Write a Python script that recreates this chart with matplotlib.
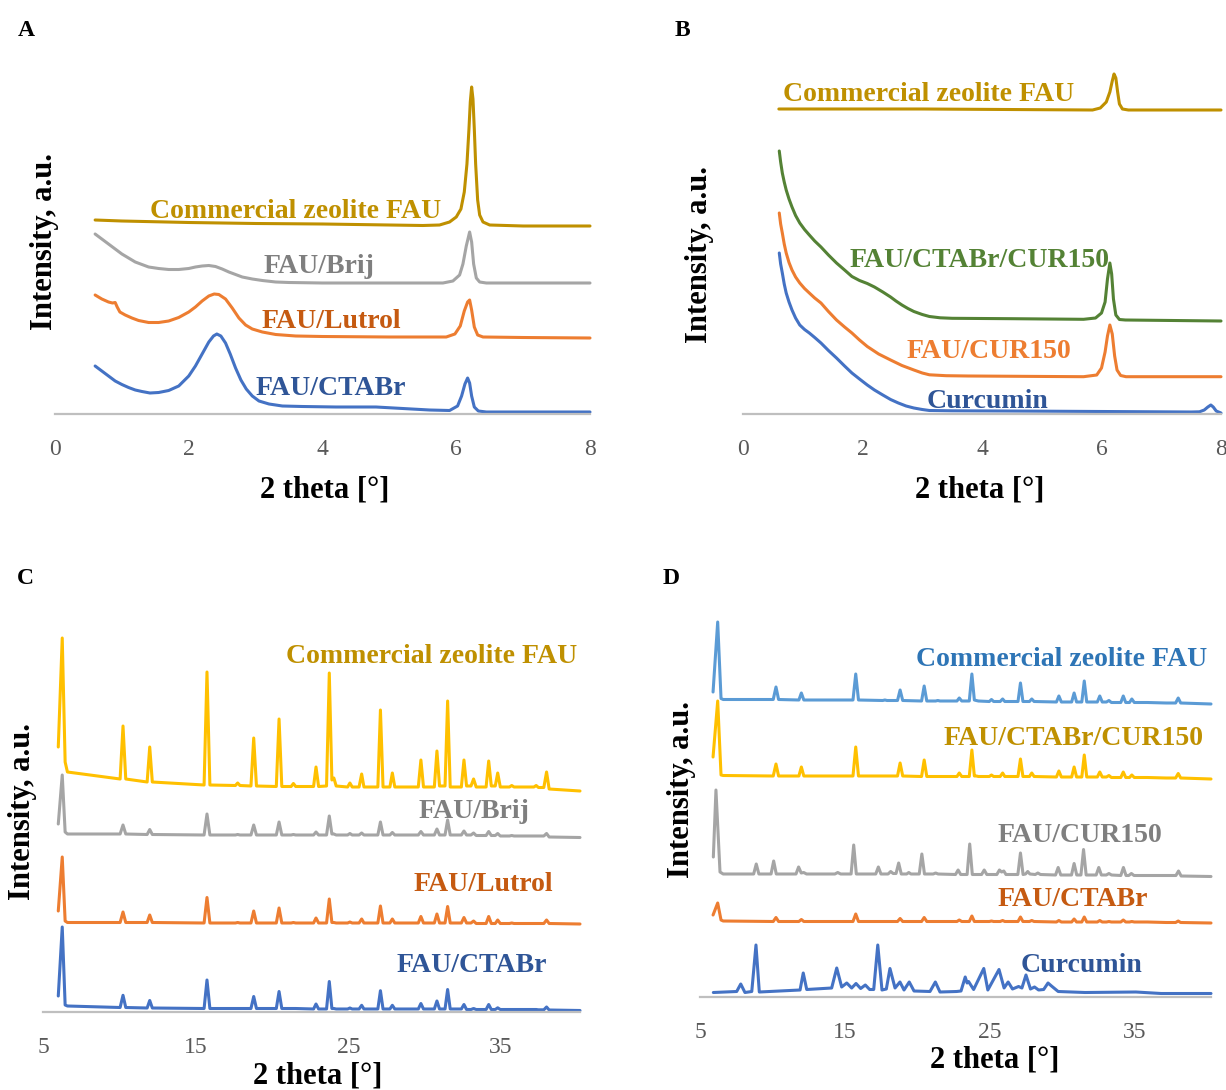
import matplotlib
matplotlib.use("Agg")
import matplotlib.pyplot as plt

plt.rcParams['font.family'] = ['Liberation Serif', 'DejaVu Serif']

# ---------------- Panel A (low angle) ----------------
A_comm_x = [0.6, 1.0, 2.0, 3.0, 4.0, 5.0, 5.5, 5.75, 5.9, 6.0, 6.07, 6.12, 6.16, 6.19, 6.21, 6.23,
            6.25, 6.27, 6.29, 6.32, 6.35, 6.4, 6.5, 7.0, 8.0]
A_comm_y = [194, 193, 191.5, 190.5, 190, 189, 188.5, 189, 192, 197, 205, 222, 250, 285, 312, 327,
            315, 285, 250, 214, 199, 192, 189, 188, 188]
A_brij_x = [0.6, 0.7, 0.8, 0.9, 1.0, 1.1, 1.2, 1.3, 1.4, 1.55, 1.7, 1.85, 2.0, 2.1, 2.2, 2.3, 2.4,
            2.5, 2.6, 2.7, 2.8, 2.95, 3.1, 3.3, 3.5, 4.0, 5.0, 5.8, 5.95, 6.05, 6.1, 6.15, 6.2,
            6.23, 6.26, 6.3, 6.35, 6.45, 7.0, 8.0]
A_brij_y = [180, 175, 170, 165, 160, 156, 152, 149.5, 147, 145.5, 144.5, 144.5, 145.5, 147, 148,
            148.5, 147.5, 145, 142, 139.5, 137, 135, 133.5, 132, 131.5, 131, 131, 131, 133, 139,
            150, 168, 182, 172, 150, 136, 132, 131, 131, 131]
A_lutrol_x = [0.6, 0.7, 0.8, 0.86, 0.9, 0.93, 0.97, 1.05, 1.15, 1.25, 1.4, 1.55, 1.7, 1.85, 2.0,
              2.1, 2.2, 2.3, 2.38, 2.45, 2.55, 2.65, 2.75, 2.85, 2.95, 3.1, 3.3, 3.6, 4.0, 5.0,
              5.85, 5.98, 6.06, 6.12, 6.17, 6.2, 6.23, 6.27, 6.32, 6.4, 7.0, 8.0]
A_lutrol_y = [119, 115, 112, 111, 111.5, 107, 102, 99, 96, 93.5, 91.5, 91.5, 93, 96.5, 102,
              107, 113, 118, 120, 119.5, 115, 106, 96, 89, 85, 82, 79.5, 78, 77.5, 77,
              77, 80, 88, 103, 112, 114, 104, 87, 79, 77, 76.5, 76]
A_ctabr_x = [0.6, 0.7, 0.8, 0.9, 1.0, 1.1, 1.2, 1.3, 1.42, 1.55, 1.7, 1.85, 2.0, 2.1, 2.2, 2.3,
             2.37, 2.42, 2.48, 2.55, 2.62, 2.7, 2.78, 2.86, 2.95, 3.05, 3.2, 3.4, 3.7, 4.2, 4.8,
             5.2, 5.6, 5.9, 6.02, 6.08, 6.13, 6.17, 6.2, 6.23, 6.27, 6.33, 6.45, 8.0]
A_ctabr_y = [48, 43, 38, 33, 29.5, 26.5, 24, 22.5, 21, 21.5, 23.5, 28, 38, 48, 60, 72,
             78, 80, 78, 71, 60, 46, 34, 25, 18, 13, 10, 8, 7.5, 7, 7,
             5.5, 4, 3.5, 8, 18, 30, 36, 31, 18, 7, 3, 2, 2]

# ---------------- Panel B (low angle) ----------------
B_comm_x = [0.6, 3.0, 5.85, 5.98, 6.08, 6.14, 6.18, 6.21, 6.24, 6.27, 6.3, 6.35, 6.45, 7.0, 8.0]
B_comm_y = [305, 305, 304, 306, 312, 322, 333, 340, 336, 322, 310, 305, 304, 304, 304]
B_ctcur_x = [0.607, 0.63, 0.658, 0.69, 0.723, 0.77, 0.82, 0.88, 0.95, 1.03, 1.11, 1.2, 1.305,
             1.43, 1.565, 1.7, 1.823, 1.95, 2.08, 2.2, 2.34, 2.47, 2.56, 2.66, 2.76, 2.86, 3.0,
             3.12, 3.3, 3.5, 4.5, 5.7, 5.9, 6.0, 6.06, 6.1, 6.14, 6.17, 6.2, 6.24, 6.3, 6.4, 8.0]
B_ctcur_y = [263, 252, 241, 232, 224, 215, 207, 198.5, 191, 184.5, 179, 173, 167,
             159, 151, 144, 137.5, 133.5, 130.5, 127, 122, 117, 113, 109, 105.5, 102.5, 99.5,
             97.5, 96.2, 95.7, 95.3, 94.7, 96, 101, 112, 135, 151, 140, 115, 99, 94.5, 94, 93]
B_cur150_x = [0.607, 0.63, 0.658, 0.69, 0.723, 0.77, 0.82, 0.88, 0.95, 1.03, 1.11, 1.2, 1.305,
              1.43, 1.565, 1.7, 1.823, 1.95, 2.08, 2.27, 2.47, 2.66, 2.86, 3.0, 3.12, 3.4, 3.77,
              5.7, 5.92, 6.0, 6.06, 6.1, 6.14, 6.18, 6.22, 6.26, 6.32, 6.41, 8.0]
B_cur150_y = [201, 190, 181, 170, 161, 151.5, 144, 137, 131, 125.5, 121, 116, 111,
              102.5, 94, 87, 81, 74, 67.5, 60, 54, 48.5, 44, 41, 39.2, 38.3, 38,
              37.3, 39, 46, 62, 78, 89, 80, 58, 44, 38.5, 37.3, 37.3]
B_curc_x = [0.607, 0.63, 0.658, 0.69, 0.723, 0.77, 0.82, 0.88, 0.95, 1.03, 1.11, 1.2, 1.305,
            1.43, 1.565, 1.7, 1.823, 1.95, 2.08, 2.2, 2.34, 2.47, 2.6, 2.73, 2.86, 3.0, 3.12,
            3.5, 4.41, 6.0, 7.5, 7.64, 7.72, 7.78, 7.83, 7.87, 7.92, 8.0]
B_curc_y = [161, 150, 141, 130, 121, 112, 104, 96, 89, 84.5, 81, 76.5, 71,
            63.5, 56, 48, 41, 35, 29, 24, 19, 14.5, 11, 8, 6, 4.5, 3.5,
            3.2, 3, 2.5, 2, 2.2, 4, 7, 9, 7, 3, 1]

# ---------------- Panel C (wide angle) ----------------
C_x = [6.0, 6.26, 6.45, 6.6,
       10.05, 10.24, 10.42, 11.82, 11.99, 12.16, 15.55, 15.74, 15.93,
       17.6, 17.75, 17.9, 18.62, 18.8, 18.98, 20.28, 20.46, 20.64,
       21.25, 21.4, 21.55, 22.72, 22.88, 23.05,
       23.57, 23.75, 23.92, 24.05, 24.2,
       24.95, 25.1, 25.25, 25.7, 25.87, 26.02, 26.93, 27.1, 27.27,
       27.72, 27.88, 28.04, 29.58, 29.75, 29.92, 30.63, 30.8, 30.97,
       31.33, 31.5, 31.67, 32.4, 32.57, 32.74, 33.03, 33.2, 33.37,
       34.02, 34.19, 34.36, 34.62, 34.78, 34.95, 35.55, 35.7, 35.85,
       37.15, 37.3, 37.45, 37.8, 37.98, 38.15,
       40.17]
C_comm = [265, 374, 250, 240,
          233, 286, 233, 230, 265, 230, 227, 340, 227,
          226.5, 229, 226.5, 226, 274, 226, 225.5, 293, 225.5,
          225.5, 228.5, 225.5, 225.5, 245, 225.5,
          226, 339, 232, 234, 226,
          225, 229, 225, 225, 238, 225, 225, 302, 225,
          225, 239, 225, 225, 252, 225, 225, 261, 226,
          226, 311, 225, 225, 252, 226, 226, 233, 225,
          225, 251, 226, 226, 239, 225, 225, 226.5, 225,
          225, 226.5, 224.5, 224.5, 240, 223,
          221]
C_brij = [188, 237, 180, 178,
          178, 187, 178, 177.5, 182.5, 177.5, 177, 198, 177,
          177, 177.5, 177, 177, 187, 177, 177, 190, 177,
          177, 177.5, 177, 177, 180, 177,
          177, 196, 178, 178, 177,
          177, 178.5, 177, 177, 179, 177, 177, 190, 177,
          177, 179.5, 177, 177, 180.5, 177, 177, 183, 177,
          177, 192, 177, 177, 181, 177, 177, 179, 176.5,
          176.5, 180.5, 176.5, 176.5, 178.5, 176, 176, 176.5, 176,
          176, 176, 176, 176, 178.5, 175,
          174.5]
C_lutrol = [101, 155, 91, 89.5,
            89.5, 100, 89.5, 89.5, 97, 89.5, 89, 114.5, 89,
            89, 89.5, 89, 89, 101, 89, 89, 104, 89,
            89, 89.5, 89, 89, 94, 89,
            89, 113, 89.5, 89.5, 89,
            89, 90, 89, 89, 93, 89, 89, 106, 89,
            89, 93, 89, 89, 95.5, 89, 89, 98, 89,
            89, 105.5, 89, 89, 94.5, 89, 89, 91, 88.5,
            88.5, 95.5, 88.5, 88.5, 92, 88.5, 88.5, 89, 88.5,
            88.5, 88.5, 88.5, 88.5, 92, 88.5,
            88]
C_ctabr = [16, 85, 7, 6,
           4.5, 16.7, 4.5, 4, 11.5, 4, 3.5, 32, 3.5,
           3.5, 3.5, 3.5, 3.5, 15.5, 3.5, 3.5, 20.5, 3.5,
           3.5, 3.5, 3.5, 3, 8, 3,
           3, 30.5, 3.5, 3.5, 3,
           3, 4, 3, 3, 6.7, 3, 3, 21.3, 3,
           3, 6.7, 3, 3, 8.5, 3, 3, 11, 3,
           3, 22.5, 3, 3, 7.5, 2.5, 2.5, 3.5, 2.5,
           2.5, 7.5, 2.5, 2.5, 4.2, 2.5, 2.5, 2.5, 2.5,
           2.5, 2.5, 2.2, 2.2, 5, 2,
           1.5]

# ---------------- Panel D (wide angle) ----------------
D_x = [5.9, 6.22, 6.45, 6.6,
       10.05, 10.24, 10.42, 11.82, 11.99, 12.16, 15.55, 15.74, 15.93,
       17.6, 17.75, 17.9, 18.62, 18.8, 18.98, 20.28, 20.46, 20.64,
       21.25, 21.4, 21.55, 22.72, 22.88, 23.05,
       23.57, 23.75, 23.92, 24.05, 24.2,
       24.95, 25.1, 25.25, 25.7, 25.87, 26.02, 26.93, 27.1, 27.27,
       27.72, 27.88, 28.04, 29.58, 29.75, 29.92, 30.63, 30.8, 30.97,
       31.33, 31.5, 31.67, 32.4, 32.57, 32.74, 33.03, 33.2, 33.37,
       34.02, 34.19, 34.36, 34.62, 34.78, 34.95, 35.55, 35.7, 35.85,
       37.15, 37.3, 37.45, 37.8, 37.98, 38.15,
       40.24]
D_comm = [305, 375, 298.5, 297.5,
          297.5, 310, 297.5, 297, 304, 297, 297, 323, 297,
          296.5, 297, 296.5, 296.5, 307, 296.5, 296, 311, 296,
          296, 296.5, 296, 296, 299, 296,
          296, 323, 297, 296.5, 296,
          295.5, 297.5, 295.5, 295.5, 298, 295.5, 295.5, 314, 295.5,
          295.5, 298, 295.5, 295, 301, 295, 295, 304, 295,
          295, 316, 295, 295, 301, 295, 295, 296.5, 294.5,
          294.5, 301, 294.5, 294.5, 298, 294.5, 294.5, 294.5, 294.5,
          294, 294, 294, 294, 299, 294,
          293]
D_ctcur = [240, 296, 222, 221.5,
           221, 233, 221, 221, 230, 221, 221, 250, 221,
           221, 221, 221, 221, 234, 221, 220.5, 237, 220.5,
           220.5, 220.5, 220.5, 220.5, 224, 220.5,
           220.5, 247, 221, 221, 220.5,
           220.5, 222, 220.5, 220.5, 224, 220.5, 220.5, 238, 220.5,
           220.5, 224, 220.5, 220, 226, 220, 220, 230, 220,
           220, 242, 220, 220, 225, 220, 220, 221.5, 219.5,
           219.5, 225, 219.5, 219.5, 222, 219.5, 219.5, 219.5, 219.5,
           219, 219, 219, 219, 223.5, 219,
           218]
D_ctabr = [82, 94, 77, 76,
           75.5, 79.5, 75.5, 75.5, 77.5, 75.5, 75.5, 83, 75.5,
           75.5, 75.5, 75.5, 75.5, 78.5, 75.5, 75.5, 79.5, 75.5,
           75.5, 75.5, 75.5, 75.5, 77, 75.5,
           75.5, 81, 75.5, 75.5, 75.5,
           75.5, 76, 75.5, 75.5, 76.5, 75.5, 75.5, 80, 75.5,
           75.5, 76.5, 75.5, 75, 76.5, 75, 75, 78, 75,
           75, 80, 75, 75, 76.5, 75, 75, 75.5, 75,
           75, 77, 75, 75, 75.5, 75, 75, 75, 75,
           74.5, 74.5, 74.5, 74.5, 76, 74.5,
           74]
D_cur150_x = [5.92, 6.1, 6.38, 6.6,
              8.7, 8.88, 9.06, 9.9, 10.08, 10.26,
              11.62, 11.8, 11.98, 12.15, 12.35,
              14.3, 14.5, 14.7, 15.42, 15.6, 15.78,
              17.12, 17.3, 17.48, 17.97, 18.15, 18.32,
              18.52, 18.7, 18.88, 19.25, 19.4, 19.55,
              20.12, 20.3, 20.48, 21.08, 21.25, 21.42,
              22.62, 22.8, 22.98, 23.42, 23.6, 23.78,
              24.42, 24.6, 24.78, 25.47, 25.65, 25.8, 25.95, 26.1,
              26.92, 27.1, 27.28, 27.45, 27.6, 27.75,
              28.12, 28.3, 28.48, 29.52, 29.7, 29.88,
              30.62, 30.8, 30.98, 31.27, 31.45, 31.63,
              32.32, 32.5, 32.68, 33.02, 33.2, 33.38,
              34.02, 34.2, 34.38, 34.57, 34.75, 34.93,
              37.82, 38.0, 38.18,
              40.24]
D_cur150_y = [140, 207, 125, 123,
              123, 133, 123, 123, 136, 123,
              123, 130, 124, 124.5, 123,
              123, 124.5, 123, 123, 152, 123,
              123, 130, 123, 123, 125.5, 123.5,
              123.5, 134, 123, 123, 124.5, 123,
              123, 143, 123, 123, 124, 123,
              122.5, 127, 122.5, 122.5, 153, 122.5,
              122.5, 127, 122.5, 122.5, 127, 125, 126, 122.5,
              122.5, 144, 122.5, 123, 125.5, 123,
              122.5, 124, 122.5, 122, 129.5, 122,
              122, 133.5, 122, 122, 147.5, 122,
              122, 129.5, 122, 122, 123.5, 122,
              121.5, 129.5, 121.5, 121.5, 123.5, 121.5,
              121.5, 126, 121,
              120.5]
D_curc_x = [5.92, 7.53, 7.81, 8.1, 8.57, 8.86, 9.09, 11.9, 12.12, 12.36,
            14.08, 14.43, 14.77, 15.12, 15.46, 15.76, 16.08, 16.4, 16.7, 16.98,
            17.26, 17.55, 17.85, 18.1, 18.45, 18.79, 19.07, 19.43, 19.76, 20.86,
            21.23, 21.55, 22.7, 23.0, 23.29, 23.42, 23.52, 23.87, 24.57, 24.85,
            25.62, 25.97, 26.25, 26.55, 26.97, 27.2, 27.48, 27.79, 28.07, 28.35,
            28.7, 29.0, 29.24, 29.7, 31.55, 35.06, 36.8, 40.24]
D_curc_y = [4.5, 5.5, 13, 4.5, 5.5, 52, 5, 7, 24, 7.5,
            9, 29, 10, 14, 9, 13.5, 8.5, 12, 7.5, 7.5,
            52, 7, 8, 28.5, 9, 15, 7, 15, 6, 5.5,
            15, 5, 5.5, 6, 20, 14, 15.5, 7.5, 28.5, 7,
            27.5, 9, 15, 8, 10.5, 9, 22, 8, 10, 7,
            7.5, 14, 11, 5.5, 4.5, 5, 3.5, 3.5]

W, H = 1226, 1090
fig = plt.figure(figsize=(W / 100, H / 100), dpi=100)


def axes_px(left, right, top, bottom):
    return fig.add_axes([left / W, 1 - bottom / H, (right - left) / W, (bottom - top) / H])


def style(ax, xlim, ylim, ticks):
    ax.set_xlim(*xlim)
    ax.set_ylim(*ylim)
    for s in ['top', 'right', 'left']:
        ax.spines[s].set_visible(False)
    ax.spines['bottom'].set_color('#BFBFBF')
    ax.spines['bottom'].set_linewidth(1.6)
    ax.set_yticks([])
    ax.set_xticks(ticks)
    ax.set_xticklabels([str(t) for t in ticks])
    ax.tick_params(axis='x', length=0, pad=18, labelsize=17, labelcolor='#595959')
    ax.patch.set_alpha(0)


def line(ax, x, y, c):
    assert len(x) == len(y)
    ax.plot(x, y, color=c, lw=2.2, solid_joinstyle='round', solid_capstyle='round', clip_on=False)


def ftext(px, py, s, **kw):
    fig.text(px / W, 1 - py / H, s, **kw)


def label(px, py, s, c, size=20):
    ftext(px, py, s, color=c, fontsize=size, fontweight='bold', ha='center', va='baseline')


axA = axes_px(55, 590, 60, 414)
style(axA, (0, 8), (0, 354), [0, 2, 4, 6, 8])
line(axA, A_comm_x, A_comm_y, '#BF9000')
line(axA, A_brij_x, A_brij_y, '#A5A5A5')
line(axA, A_lutrol_x, A_lutrol_y, '#ED7D31')
line(axA, A_ctabr_x, A_ctabr_y, '#4472C4')

axB = axes_px(743, 1221, 60, 414)
style(axB, (0, 8), (0, 354), [0, 2, 4, 6, 8])
line(axB, B_comm_x, B_comm_y, '#BF9000')
line(axB, B_ctcur_x, B_ctcur_y, '#548235')
line(axB, B_cur150_x, B_cur150_y, '#ED7D31')
line(axB, B_curc_x, B_curc_y, '#4472C4')

axC = axes_px(43, 580, 610, 1012)
style(axC, (5, 40.17), (0, 402), [5, 15, 25, 35])
line(axC, C_x, C_comm, '#FFC000')
line(axC, C_x, C_brij, '#A5A5A5')
line(axC, C_x, C_lutrol, '#ED7D31')
line(axC, C_x, C_ctabr, '#4472C4')

axD = axes_px(700, 1211, 600, 997)
style(axD, (5, 40.24), (0, 397), [5, 15, 25, 35])
line(axD, D_x, D_comm, '#5B9BD5')
line(axD, D_x, D_ctcur, '#FFC000')
line(axD, D_cur150_x, D_cur150_y, '#A5A5A5')
line(axD, D_x, D_ctabr, '#ED7D31')
line(axD, D_curc_x, D_curc_y, '#4472C4')

# series labels
label(295.5, 218, 'Commercial zeolite FAU', '#BF9000')
label(319, 273, 'FAU/Brij', '#7F7F7F')
label(331, 328, 'FAU/Lutrol', '#C55A11')
label(331, 395, 'FAU/CTABr', '#2F5597')

label(928.5, 101, 'Commercial zeolite FAU', '#BF9000')
label(979.5, 267, 'FAU/CTABr/CUR150', '#548235')
label(988.5, 358, 'FAU/CUR150', '#ED7D31')
label(988, 408, 'Curcumin', '#2F5597')

label(431.5, 663, 'Commercial zeolite FAU', '#BF9000')
label(473.5, 818, 'FAU/Brij', '#7F7F7F')
label(483, 891, 'FAU/Lutrol', '#C55A11')
label(472, 972, 'FAU/CTABr', '#2F5597')

label(1061.5, 666, 'Commercial zeolite FAU', '#2E75B6')
label(1074, 745, 'FAU/CTABr/CUR150', '#BF9000')
label(1079.5, 842, 'FAU/CUR150', '#7F7F7F')
label(1072.5, 906, 'FAU/CTABr', '#C55A11')
label(1082, 972, 'Curcumin', '#2F5597')

# axis titles
for (px, py) in [(325, 497), (980, 498), (318, 1083), (995, 1068)]:
    ftext(px, py, '2 theta [°]', fontsize=22, fontweight='bold', ha='center', va='baseline', color='black')
for (px, py) in [(45, 242), (699, 254), (23, 811), (681, 790)]:
    ftext(px, py, 'Intensity, a.u.', fontsize=22, fontweight='bold', ha='center', va='center',
          rotation=90, color='black')

# panel letters
for (px, py, s) in [(26, 36, 'A'), (682, 36, 'B'), (25, 584, 'C'), (671, 584, 'D')]:
    ftext(px, py, s, fontsize=17, fontweight='bold', ha='center', va='baseline', color='black')

fig.savefig('out.png', dpi=100)
